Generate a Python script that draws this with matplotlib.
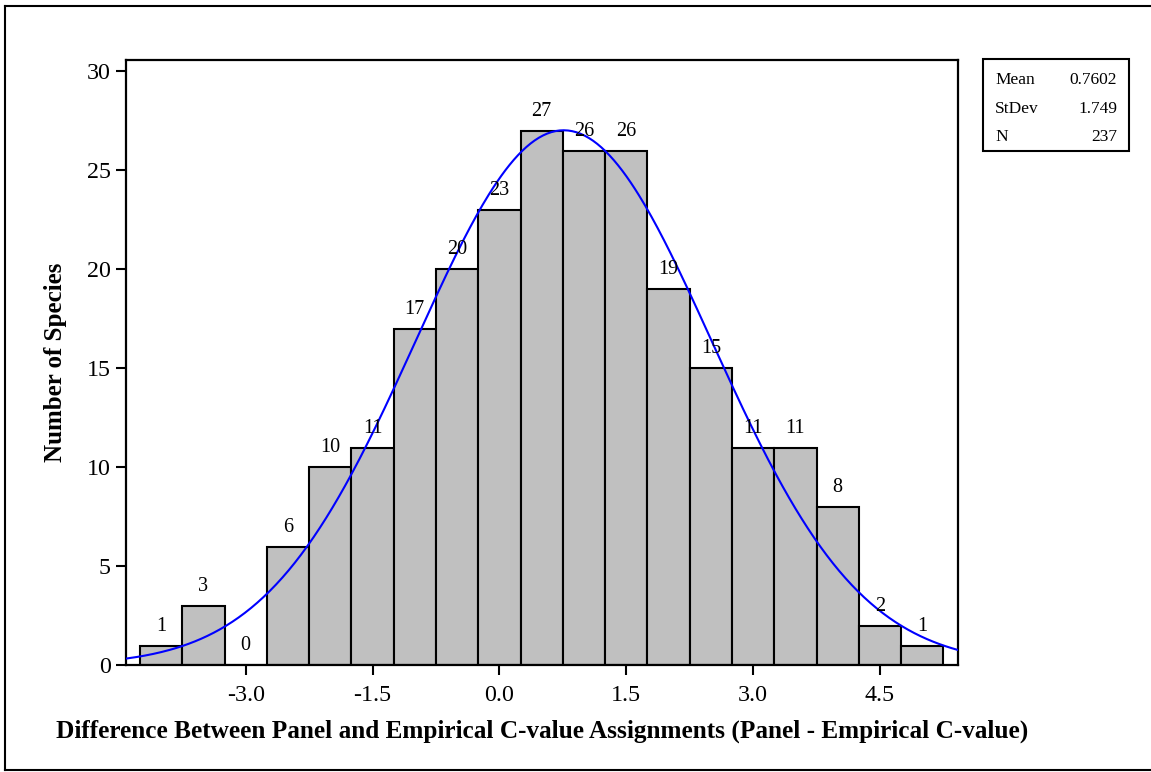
import numpy as np
import matplotlib
matplotlib.use("Agg")
import matplotlib.pyplot as plt
from matplotlib.lines import Line2D
from matplotlib.patches import Rectangle

# bin midpoints and counts
bin_centers = [-4.0, -3.5, -3.0, -2.5, -2.0, -1.5, -1.0, -0.5, 0.0, 0.5,
               1.0, 1.5, 2.0, 2.5, 3.0, 3.5, 4.0, 4.5, 5.0]
counts = [1, 3, 0, 6, 10, 11, 17, 20, 23, 27, 26, 26, 19, 15, 11, 11, 8, 2, 1]
bin_width = 0.5

# summary statistics shown in the box
mean_val = 0.7602
std_val = 1.749
n_val = 237

x_ticks = [-3.0, -1.5, 0.0, 1.5, 3.0, 4.5]
y_ticks = [0, 5, 10, 15, 20, 25, 30]

W, H = 1151, 772
plt.rcParams['font.family'] = ['Liberation Serif', 'DejaVu Serif']

fig = plt.figure(figsize=(W / 100, H / 100), dpi=100)

# axes placed in pixel terms
left, right, top, bottom = 126, 958, 60, 665.3
ax = fig.add_axes([left / W, 1 - bottom / H, (right - left) / W, (bottom - top) / H])

ax.bar(bin_centers, counts, width=bin_width, color='#c0c0c0',
       edgecolor='black', linewidth=1.5, zorder=2)

# fitted normal curve from the displayed mean / stdev
xs = np.linspace(-4.415, 5.423, 400)
ys = n_val * bin_width * np.exp(-0.5 * ((xs - mean_val) / std_val) ** 2) / (std_val * np.sqrt(2 * np.pi))
ax.plot(xs, ys, color='#0000ff', linewidth=1.5, zorder=3)

for xc, c in zip(bin_centers, counts):
    ax.annotate(str(c), (xc, c), xytext=(0, 14), textcoords='offset points',
                ha='center', va='center', fontsize=14.5, zorder=4)

ax.set_xlim(-4.415, 5.423)
ax.set_ylim(0, 30.58)
ax.set_xticks(x_ticks)
ax.set_xticklabels([f'{t:.1f}' for t in x_ticks])
ax.set_yticks(y_ticks)
ax.tick_params(axis='both', direction='out', length=7, width=1.5, labelsize=17.3)
ax.tick_params(axis='x', pad=7)
ax.tick_params(axis='y', pad=4)
for sp in ax.spines.values():
    sp.set_linewidth(1.6)

ax.set_ylabel('Number of Species', fontsize=18, fontweight='bold', labelpad=14)
ax.set_xlabel('Difference Between Panel and Empirical C-value Assignments (Panel - Empirical C-value)',
              fontsize=18.2, fontweight='bold', labelpad=10)

# stats box
def fx(px):
    return px / W

def fy(py):
    return 1 - py / H

fig.patches.append(Rectangle((fx(983), fy(151)), fx(1129) - fx(983), fy(59) - fy(151),
                             transform=fig.transFigure, fill=False, edgecolor='black',
                             linewidth=1.5))
rows = [('Mean', f'{mean_val:.4f}'), ('StDev', f'{std_val:.3f}'), ('N', str(n_val))]
for i, (lab, val) in enumerate(rows):
    yy = fy(80 + i * 28.7)
    fig.text(fx(995), yy, lab, ha='left', va='center', fontsize=12.5)
    fig.text(fx(1117), yy, val, ha='right', va='center', fontsize=12.5)

# outer frame (top, left, bottom)
for (x0, y0, x1, y1) in [(4.5, 5.5, 1151, 5.5), (4.5, 5.5, 4.5, 770), (4.5, 770, 1151, 770)]:
    fig.lines.append(Line2D([fx(x0), fx(x1)], [fy(y0), fy(y1)], transform=fig.transFigure,
                            color='black', linewidth=1.5))

fig.savefig('out.png', dpi=100)
